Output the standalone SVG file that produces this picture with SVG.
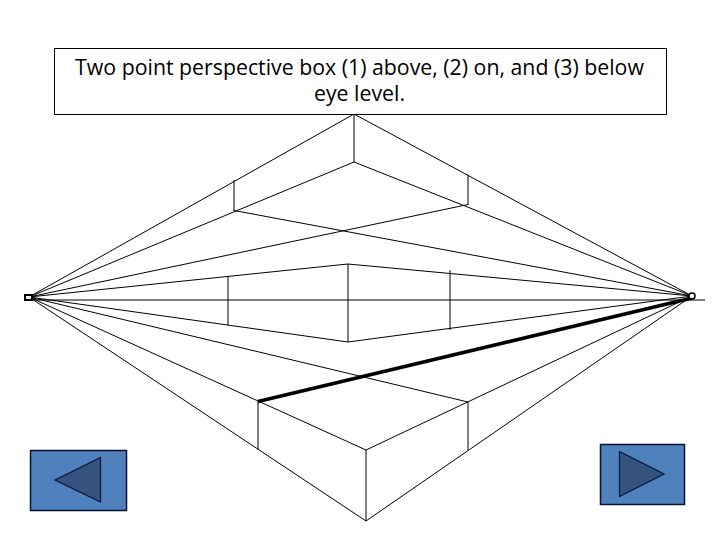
<svg xmlns="http://www.w3.org/2000/svg" width="720" height="540" viewBox="0 0 720 540">
<style>
.l{stroke:#000;stroke-width:1;fill:none}
.btn{fill:#4f81bd;stroke:#06122e;stroke-width:1.500}
.tri{fill:#34547f;stroke:#06173c;stroke-width:1.300}
text{font-family:"Open Sans",sans-serif;font-size:21.300px;fill:#000;text-anchor:middle}
</style>
<rect width="720" height="540" fill="#fff"/>
<g id="connectors">
<path class="l" d="M24 300H705"/>
<path class="l" d="M29 297L354 114L692 296"/>
<path class="l" d="M29 297L354 162L692 296"/>
<path class="l" d="M354 114V162M234 180V211M468 175V205"/>
<path class="l" d="M29 297L468 204.500M234 210.500L692 296"/>
<path class="l" d="M29 297L348 264L692 296"/>
<path class="l" d="M29 297L348 342L692 296"/>
<path class="l" d="M348 264V342M228 276V325M450 270V330"/>
<path class="l" d="M29 297L366 521L692 296"/>
<path class="l" d="M29 297L366 450L692 296"/>
<path class="l" d="M29 297L468 402"/>
<path class="l" d="M366 450V521M258 401V450M468 402V450"/>
<path d="M258 401.500L692 298" stroke="#000" stroke-width="3.500" fill="none"/>
</g>
<g id="vp-left"><rect x="25" y="295" width="7" height="5" fill="#fff" stroke="#000" stroke-width="2"/></g>
<g id="vp-right"><circle cx="692" cy="296" r="3" fill="#fff" stroke="#000" stroke-width="1.500"/></g>
<g id="title">
<rect x="54.500" y="48.500" width="612" height="66" fill="#fff" stroke="#000"/>
<text x="359.500" y="75">Two point perspective box (1) above, (2) on, and (3) below</text>
<text x="359.500" y="101">eye level.</text>
</g>
<g id="btn-back"><rect class="btn" x="30.500" y="450.500" width="96" height="60"/><path class="tri" d="M55 480L100.500 457.500V502Z"/></g>
<g id="btn-next"><rect class="btn" x="600.500" y="444.500" width="84" height="60"/><path class="tri" d="M619.500 451.500L664 474L619.500 496.500Z"/></g>
</svg>
